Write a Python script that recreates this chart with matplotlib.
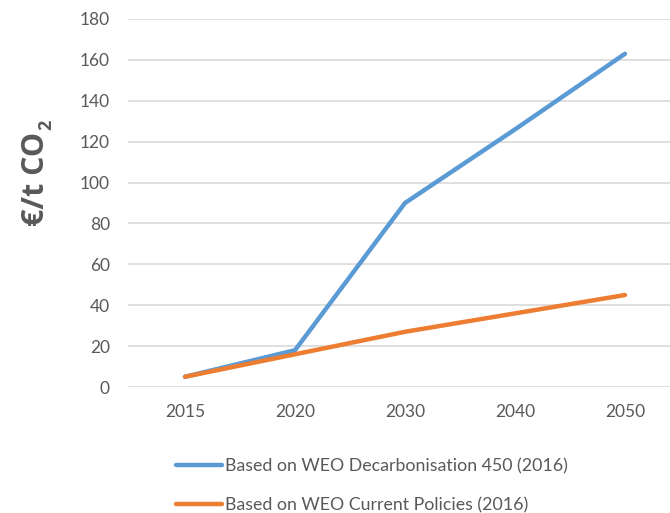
import numpy as np
import matplotlib.pyplot as plt

plt.rcParams['font.family'] = ['Lato', 'DejaVu Sans']

years = ['2015', '2020', '2030', '2040', '2050']
decarb_450 = [5, 18, 90, 126, 163]
current_policies = [5, 16, 27, 36, 45]

blue = '#5B9BD5'
orange = '#ED7D31'
grey = '#595959'

fig = plt.figure(figsize=(6.7, 5.13), dpi=100)
ax = fig.add_axes([128 / 670, 1 - 387 / 513, (670 - 128) / 670, 368 / 513])

x = np.arange(len(years))
ax.plot(x, decarb_450, color=blue, lw=3.2, solid_capstyle='round',
        label='Based on WEO Decarbonisation 450 (2016)')
ax.plot(x, current_policies, color=orange, lw=3.2, solid_capstyle='round',
        label='Based on WEO Current Policies (2016)')

ax.set_xlim(-57 / 110, (670 - 185) / 110)
ax.set_ylim(0, 180)
ax.set_yticks(np.arange(0, 181, 20))
ax.set_xticks(x)
ax.set_xticklabels(years)
ax.tick_params(axis='both', length=0, labelsize=12.5, colors=grey)
ax.tick_params(axis='y', pad=13)
ax.tick_params(axis='x', pad=12)
ax.grid(axis='y', color='#D9D9D9', lw=1.2)
ax.set_axisbelow(True)
for s in ax.spines.values():
    s.set_visible(False)

# y-axis title, subscript drawn as a second smaller text
lbl = dict(rotation=90, ha='center', fontweight='bold', color=grey,
           family=['Open Sans', 'DejaVu Sans'])
fig.text(36 / 670, 1 - 226 / 513, '€/t CO', va='bottom', fontsize=22, **lbl)
fig.text(46 / 670, 1 - 130 / 513, '2', va='bottom', fontsize=13, **lbl)

leg = fig.legend(loc='upper left', bbox_to_anchor=(176 / 670, 1 - 458 / 513),
                 frameon=False, fontsize=12.8, handlelength=2.6, handletextpad=0.15,
                 labelspacing=1.3, borderpad=0, borderaxespad=0)
for t in leg.get_texts():
    t.set_color(grey)

fig.savefig('out.png', dpi=100)
